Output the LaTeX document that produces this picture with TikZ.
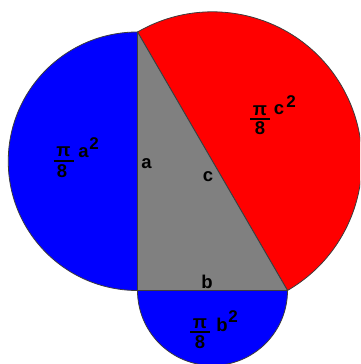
\documentclass[tikz,border=0pt]{standalone}
\usepackage{fontspec}
\setmainfont{Liberation Sans}
\definecolor{pblue}{RGB}{0,0,255}
\definecolor{pred}{RGB}{255,0,0}
\definecolor{pgray}{RGB}{128,128,128}
\definecolor{edge}{RGB}{60,60,60}
\begin{document}
\begin{tikzpicture}[x=1pt,y=1pt,
  region/.style={draw=edge,line width=0.8pt,line join=round},
  lbl/.style={inner sep=0pt,font=\fontsize{18.5}{20}\selectfont\bfseries},
  sup/.style={inner sep=0pt,font=\fontsize{17}{19}\selectfont\bfseries},
  bar/.style={line width=2pt}]
\useasboundingbox (0,0) rectangle (360,364);
\clip (0,0) rectangle (360,364);
\coordinate (T) at (137.5,332);
\coordinate (C) at (137.5,73.5);
\coordinate (B) at (287.5,73.5);
% semicircle on a
\filldraw[fill=pblue,region] (T) arc[start angle=90,end angle=270,radius=129.25] -- cycle;
% semicircle on b
\filldraw[fill=pblue,region] (C) arc[start angle=180,end angle=360,radius=75] -- cycle;
% semicircle on c
\filldraw[fill=pred,region] (B) arc[start angle=-59.87,end angle=120.13,radius=149.43] -- cycle;
% triangle
\filldraw[fill=pgray,region] (T) -- (C) -- (B) -- cycle;
% side labels
\node[lbl] (la) at (146.5,200.5) {a};
\node[lbl] (lc) at (208,187.5) {c};
\node[lbl] (lb) at (207,82) {b};
% area a
\node[lbl] (pia) at (63.5,212) {π};
\node[lbl] (eia) at (62,193) {8};
\draw[bar] (53.5,203) -- (73.5,203);
\node[lbl] (aa) at (83.5,211) {a};
\node[sup] (sa) at (94,220.5) {2};
% area b
\node[lbl] (pib) at (200,40.5) {π};
\node[lbl] (eib) at (200,21.5) {8};
\draw[bar] (190,31.5) -- (210,31.5);
\node[lbl] (bb) at (222,39.5) {b};
\node[sup] (sb) at (233,47) {2};
% area c
\node[lbl] (pic) at (260,253.5) {π};
\node[lbl] (eic) at (260,235.5) {8};
\draw[bar] (250,245) -- (270,245);
\node[lbl] (cc) at (279,254.5) {c};
\node[sup] (sc) at (291,262.5) {2};
\end{tikzpicture}
\end{document}
